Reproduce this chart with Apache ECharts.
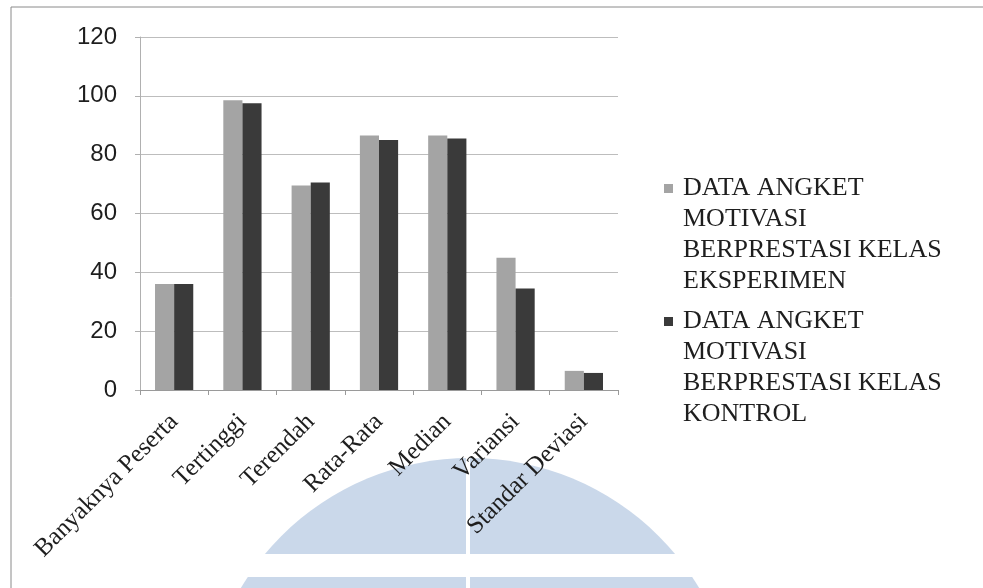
<!DOCTYPE html>
<html>

<head>
    <meta charset="utf-8">
    <title>Data Angket Motivasi Berprestasi</title>
    <script src="https://cdn.jsdelivr.net/npm/echarts@6/dist/echarts.min.js"></script>
    <style>
        html, body { margin: 0; padding: 0; background: #fff; }
    </style>
</head>

<body>
    <div id="chart" style="width: 983px; height: 588px;"></div>

    <script>
        var chart = echarts.init(document.getElementById('chart'));

        // kategori sumbu x
        var categories = ['Banyaknya Peserta', 'Tertinggi', 'Terendah', 'Rata-Rata', 'Median', 'Variansi', 'Standar Deviasi'];

        // nama seri (legend)
        var seriesNames = [
            'DATA ANGKET\nMOTIVASI\nBERPRESTASI KELAS\nEKSPERIMEN',
            'DATA ANGKET\nMOTIVASI\nBERPRESTASI KELAS\nKONTROL'
        ];

        // nilai
        var eksperimen = [36, 98.5, 69.5, 86.5, 86.5, 45, 6.5];
        var kontrol = [36, 97.5, 70.5, 85, 85.5, 34.5, 5.8];

        // label sumbu y
        var yMin = 0, yMax = 120, yStep = 20;

        var colors = ['#a4a4a4', '#3a3a3a'];

        // ikon legend: kotak kecil sejajar baris pertama teks (4 baris x 31px)
        var legendIcon = 'path://M0,0h0.01v0.01h-0.01z M0,11h9v9h-9z M14,124h0.01v0.01h-0.01z';

        var option = {
            backgroundColor: '#fff',
            animation: false,
            grid: {
                left: 140,
                right: 365,
                top: 37,
                bottom: 198,
                containLabel: false
            },
            legend: {
                data: seriesNames,
                orient: 'vertical',
                left: 664,
                top: 173,
                padding: 0,
                itemGap: 9,
                icon: legendIcon,
                itemWidth: 14,
                itemHeight: 124,
                selectedMode: false,
                textStyle: {
                    fontFamily: 'Liberation Serif',
                    fontSize: 26,
                    color: '#1e1e1e',
                    lineHeight: 31
                }
            },
            xAxis: {
                type: 'category',
                data: categories,
                axisLine: { lineStyle: { color: '#9a9a9a', width: 1 } },
                axisTick: { show: true, length: 5, lineStyle: { color: '#9a9a9a' } },
                axisLabel: {
                    rotate: 45,
                    interval: 0,
                    margin: 28,
                    fontFamily: 'Liberation Serif',
                    fontSize: 25,
                    color: '#1e1e1e'
                }
            },
            yAxis: {
                type: 'value',
                min: yMin,
                max: yMax,
                interval: yStep,
                axisLine: { show: true, lineStyle: { color: '#b0b0b0' } },
                axisTick: { show: true, length: 5, lineStyle: { color: '#b0b0b0' } },
                splitLine: { lineStyle: { color: '#bdbdbd', width: 1 } },
                axisLabel: {
                    margin: 23,
                    fontFamily: 'Liberation Sans',
                    fontSize: 24,
                    color: '#1e1e1e'
                }
            },
            series: [
                {
                    name: seriesNames[0],
                    type: 'bar',
                    data: eksperimen,
                    barGap: '0%',
                    barCategoryGap: '44%',
                    itemStyle: { color: colors[0] }
                },
                {
                    name: seriesNames[1],
                    type: 'bar',
                    data: kontrol,
                    barGap: '0%',
                    barCategoryGap: '44%',
                    itemStyle: { color: colors[1] }
                }
            ],
            // bingkai hasil pindaian dan watermark logo
            graphic: [
                {
                    type: 'circle',
                    z: -10,
                    silent: true,
                    shape: { cx: 470, cy: 725, r: 267 },
                    style: { fill: '#cad8ea' }
                },
                {
                    type: 'rect',
                    z: -9,
                    silent: true,
                    shape: { x: 150, y: 554, width: 700, height: 23 },
                    style: { fill: '#fff' }
                },
                {
                    type: 'rect',
                    z: -9,
                    silent: true,
                    shape: { x: 466, y: 440, width: 4, height: 160 },
                    style: { fill: '#fff' }
                },
                {
                    type: 'line',
                    silent: true,
                    shape: { x1: 11, y1: 7, x2: 11, y2: 588 },
                    style: { stroke: '#8a8a8a', lineWidth: 1 }
                },
                {
                    type: 'line',
                    silent: true,
                    shape: { x1: 11, y1: 7, x2: 983, y2: 7 },
                    style: { stroke: '#8a8a8a', lineWidth: 1 }
                }
            ]
        };

        chart.setOption(option);
    </script>
</body>

</html>
